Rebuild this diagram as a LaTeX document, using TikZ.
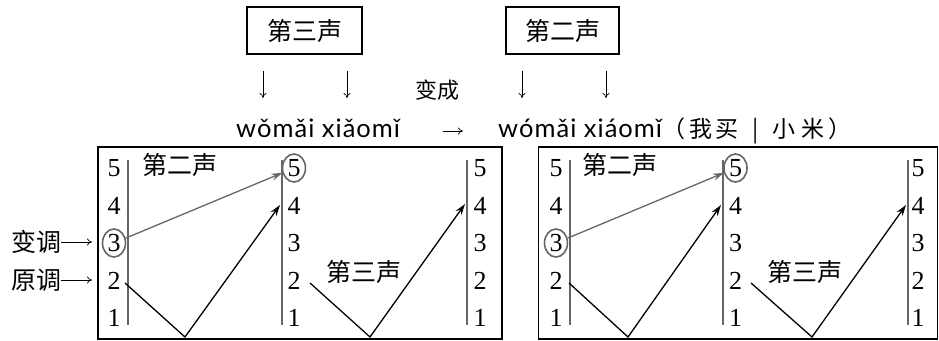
\documentclass[tikz,border=0pt]{standalone}
\usepackage{fontspec}
\setmainfont{Liberation Serif}
\newfontfamily\cjk{Noto Sans CJK SC}
\newfontfamily\py[LetterSpace=4]{Lato}
\usetikzlibrary{arrows.meta,shapes.geometric}
\tikzset{
  cn/.style={inner sep=0pt, font=\cjk\fontsize{25}{25}\selectfont},
  cnsm/.style={inner sep=0pt, font=\cjk\fontsize{22}{22}\selectfont},
  num/.style={inner sep=0pt, font=\fontsize{26}{26}\selectfont},
  pyf/.style={inner sep=0pt, anchor=base west, font=\py\fontsize{25.5}{25.5}\selectfont},
  frame/.style={draw, line width=1.3pt, inner sep=0pt},
  axisline/.style={draw=black!60, line width=1.8pt},
  tonearr/.style={draw=black, line width=1.3pt, -{Stealth[length=11pt,width=7pt]}},
  shiftarr/.style={draw=black!60, line width=1.3pt, -{Stealth[length=11pt,width=7pt]}},
  ring/.style={draw=black!60, line width=1.6pt, ellipse, inner sep=0pt, minimum width=23pt, minimum height=28pt},
  txtarr/.style={draw=black, line width=0.7pt, -{To[length=5pt,width=7pt]}},
}
\begin{document}
\begin{tikzpicture}[x=1pt,y=-1pt]
\useasboundingbox (0,0) rectangle (939,340);
% top boxes
\node[frame, cn, minimum width=115pt, minimum height=47pt] (tb1) at (304.5,30.5) {第三声};
\node[frame, cn, minimum width=113pt, minimum height=47pt] (tb2) at (562.5,30.5) {第二声};
\node[cnsm] (bc) at (437,90) {变成};
\coordinate (d1s) at (263,71); \coordinate (d1e) at (263,98);
\coordinate (d2s) at (347,71); \coordinate (d2e) at (347,98);
\coordinate (d3s) at (522,71); \coordinate (d3e) at (522,98);
\coordinate (d4s) at (606,71); \coordinate (d4e) at (606,98);
\foreach \i in {1,2,3,4} \draw[txtarr] (d\i s) -- (d\i e);
% pinyin line
\node[pyf] (pa) at (236,137) {wǒmǎi xiǎomǐ};
\node[pyf] (pb) at (498,137) {wómǎi xiáomǐ{\cjk\fontsize{23}{23}\selectfont（\hspace{4pt}我\hspace{3pt}买\hspace{14pt}|\hspace{14pt}小\hspace{6pt}米\hspace{4pt}）}};
\coordinate (ms) at (443,131); \coordinate (me) at (463,131);
\draw[txtarr] (ms) -- (me);
% panels
\node[frame, minimum width=404pt, minimum height=192pt] (boxL) at (300,243) {};
\node[frame, minimum width=399pt, minimum height=192pt] (boxR) at (738,243) {};
% axes
\foreach \x in {128,282,467,570,723,908} \draw[axisline] (\x,160) -- (\x,325);
% numbers, left panel
\foreach \v/\y in {5/168,4/205.5,2/280.5,1/318} \node[num] (LA\v) at (114,\y) {\v};
\node[num, ring] (LA3) at (114,243) {3};
\foreach \v/\y in {4/205.5,3/243,2/280.5,1/318} \node[num] (LB\v) at (294,\y) {\v};
\node[num, ring] (LB5) at (294,168) {5};
\foreach \v/\y in {5/168,4/205.5,3/243,2/280.5,1/318} \node[num] (LC\v) at (480,\y) {\v};
% numbers, right panel
\foreach \v/\y in {5/168,4/205.5,2/280.5,1/318} \node[num] (RA\v) at (556,\y) {\v};
\node[num, ring] (RA3) at (556,243) {3};
\foreach \v/\y in {4/205.5,3/243,2/280.5,1/318} \node[num] (RB\v) at (735.5,\y) {\v};
\node[num, ring] (RB5) at (735.5,168) {5};
\foreach \v/\y in {5/168,4/205.5,3/243,2/280.5,1/318} \node[num] (RC\v) at (918,\y) {\v};
% tone labels
\node[cn] (Lt2) at (180,165) {第二声};
\node[cn] (Lt3) at (364,272) {第三声};
\node[cn] (Rt2) at (620,165) {第二声};
\node[cn] (Rt3) at (805,272) {第三声};
% left labels
\node[cn] (bd) at (36,242) {变调};
\node[cn] (yd) at (36,280) {原调};
\coordinate (bdE) at (92,242); \coordinate (ydE) at (92,280);
\draw[txtarr] (bd.east) -- (bdE);
\draw[txtarr] (yd.east) -- (ydE);
% tone contours
\coordinate (a1) at (125,283); \coordinate (b1) at (185,337); \coordinate (t1) at (280,205);
\coordinate (a2) at (310,283); \coordinate (b2) at (370,337); \coordinate (t2) at (465,204);
\coordinate (a3) at (569,283); \coordinate (b3) at (628,337); \coordinate (t3) at (721,205);
\coordinate (a4) at (751,283); \coordinate (b4) at (812,337); \coordinate (t4) at (906,205);
\foreach \i in {1,2,3,4} \draw[tonearr] (a\i) -- (b\i) -- (t\i);
% sandhi arrows
\draw[shiftarr] (LA3) -- (LB5);
\draw[shiftarr] (RA3) -- (RB5);
\end{tikzpicture}
\end{document}
